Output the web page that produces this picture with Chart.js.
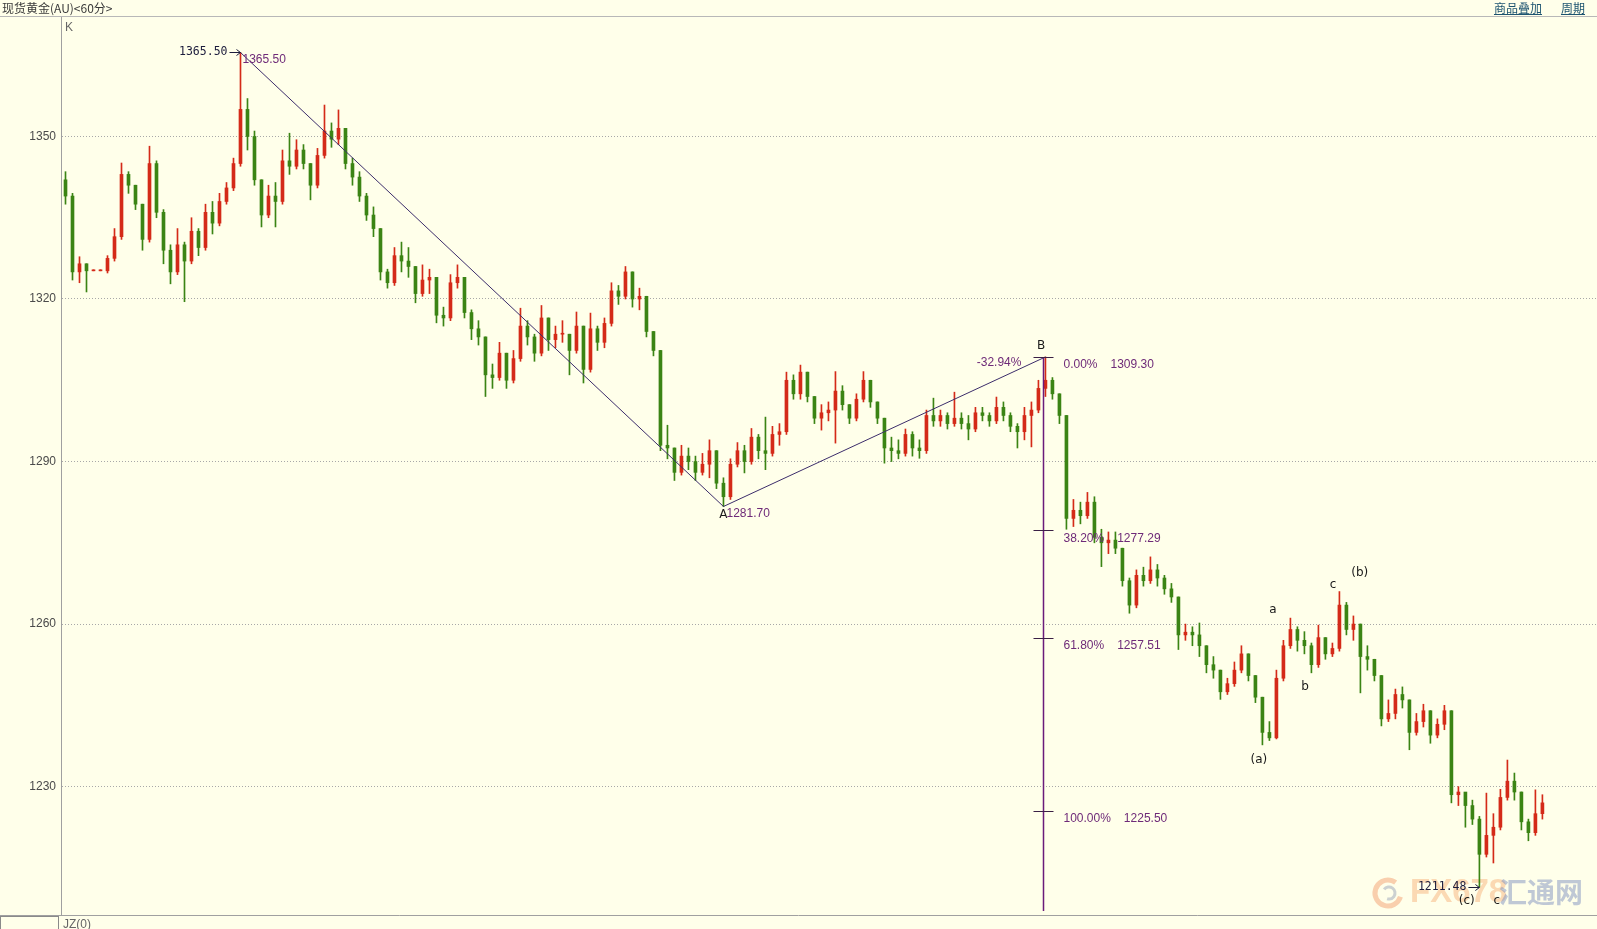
<!DOCTYPE html>
<html>
<head>
<meta charset="utf-8">
<title>现货黄金(AU)&lt;60分&gt;</title>
<script src="https://cdn.jsdelivr.net/npm/chart.js@4.4.1/dist/chart.umd.min.js"></script>
<style>
html, body { margin: 0; padding: 0; background: #ffffea; overflow: hidden; }
#wrap { position: relative; width: 1597px; height: 929px; }
#kChart { position: absolute; left: 0; top: 0; }
#title { position: absolute; left: 0; top: 0; width: 1597px; height: 17px; border-bottom: 1px solid #b8b8b8; box-sizing: border-box;
  font: 12px "Noto Sans CJK SC", sans-serif; color: #3a3a3a; line-height: 15px; padding-left: 2px; }
#links { position: absolute; right: 12px; top: 0; font: 12px "Noto Sans CJK SC", sans-serif; line-height: 15px; }
#links span { color: #1d5470; text-decoration: underline; margin-left: 19px; }
#jzBox { position: absolute; left: 0; top: 916px; width: 59px; height: 14px; border: 1px solid #8a8a8a; box-sizing: border-box; }
#jz { position: absolute; left: 63px; top: 917px; font: 12px "Liberation Sans", sans-serif; color: #666; }
</style>
</head>
<body>
<div id="wrap">
  <canvas id="kChart" width="1597" height="929"></canvas>
  <div id="title">现货黄金(AU)&lt;60分&gt;</div>
  <div id="links"><span>商品叠加</span><span>周期</span></div>
  <div id="jzBox"></div>
  <div id="jz">JZ(0)</div>
</div>
<script>
'use strict';

// hourly candles, left to right
const firstOpen = 1342;
const closes = [
  1339, 1325, 1326.5, 1325.2, 1325.2, 1325.2, 1327.5, 1331.5, 1343, 1341,
  1337.5, 1331, 1345, 1336, 1329, 1325, 1330, 1327, 1332.5, 1329.5,
  1336, 1334, 1338, 1340.5, 1345, 1355, 1350, 1342, 1335.5, 1339,
  1338, 1345.5, 1344.5, 1347.5, 1345, 1341, 1346.5, 1351, 1349.5, 1351.5,
  1345, 1342.5, 1339, 1335.5, 1333, 1325, 1323, 1328, 1327, 1326,
  1321, 1323.5, 1324, 1317, 1316.5, 1323, 1324, 1317.5, 1314.5, 1313,
  1306, 1305.5, 1310, 1305, 1309, 1315, 1313, 1310, 1316.5, 1312.5,
  1313.5, 1313.5, 1310.5, 1315, 1307, 1314.5, 1312, 1315.5, 1321.5, 1320.5,
  1325, 1320, 1320.5, 1314, 1310.5, 1293, 1292.5, 1288, 1291, 1290,
  1288, 1289.5, 1292, 1286, 1283.5, 1289.5, 1292, 1290, 1294.5, 1292,
  1291.5, 1295, 1295.5, 1305, 1302.5, 1306.5, 1302, 1298, 1299, 1299.5,
  1303, 1300.5, 1298, 1301.5, 1305, 1301, 1298, 1292.5, 1292, 1291.5,
  1295, 1292.5, 1292, 1298.5, 1297.5, 1298.5, 1297, 1298, 1297, 1296,
  1299, 1298.5, 1297.5, 1300, 1298.5, 1296.5, 1295.5, 1298.5, 1299.5, 1303.5,
  1305, 1302.5, 1298.5, 1279.5, 1281, 1280, 1282.5, 1276, 1275, 1275.5,
  1274, 1268, 1263.5, 1269, 1268, 1270, 1268.5, 1266.5, 1265, 1258,
  1258.5, 1258, 1256, 1252.5, 1251.5, 1247.5, 1249, 1251.5, 1254.5, 1250.5,
  1246.5, 1240, 1239, 1250, 1256, 1259, 1257, 1256, 1252.5, 1257.5,
  1254.5, 1255.5, 1263.5, 1259, 1260, 1254, 1253.5, 1250.5, 1242.5, 1243.5,
  1247, 1246, 1240, 1242, 1244, 1239.5, 1241.5, 1244, 1228.5, 1229,
  1226.5, 1224, 1217.5, 1221, 1222.5, 1228, 1231, 1229, 1223.5, 1221.5,
  1225, 1227
];
const highs = [
  1343.5, 1339.5, 1327.8, 1326.5, 1325.2, 1325.2, 1328, 1333, 1345.1, 1343.5,
  1341, 1337.5, 1348.2, 1345.5, 1336.5, 1330, 1333, 1330.5, 1335, 1333,
  1337.5, 1338, 1339.5, 1341.5, 1346, 1365.5, 1357, 1351, 1342, 1341,
  1341.5, 1347.5, 1350.6, 1349.4, 1348.5, 1345, 1347.8, 1355.8, 1352.5, 1354.9,
  1351.5, 1346, 1343.5, 1339.5, 1337, 1333, 1325.5, 1329.5, 1330.5, 1329.5,
  1326, 1326.3, 1325.5, 1324, 1318.5, 1324.5, 1326.3, 1324, 1318, 1316,
  1313, 1308, 1312, 1310, 1310.5, 1318.3, 1316, 1313.5, 1318.8, 1316.5,
  1315, 1316, 1313.5, 1317.6, 1315, 1317.4, 1315, 1316.5, 1323, 1322.5,
  1326, 1325, 1322, 1320.5, 1314, 1310.5, 1296.7, 1292.5, 1293, 1292.5,
  1291, 1291.5, 1294, 1292, 1287, 1290.5, 1293.5, 1293, 1296.1, 1295,
  1298.2, 1296.5, 1297, 1306.5, 1306, 1307.8, 1306.5, 1302, 1300.5, 1301,
  1306.6, 1304, 1300.5, 1302.5, 1306.6, 1305, 1301, 1298, 1294.5, 1294,
  1296, 1295.5, 1294, 1299.5, 1301.7, 1299.5, 1299, 1302.8, 1299, 1298.5,
  1300, 1300, 1299, 1301.9, 1301, 1299, 1297, 1300, 1301, 1305,
  1309.3, 1305.5, 1302.5, 1298.5, 1283, 1282.5, 1284.3, 1283.5, 1277.5, 1277,
  1277, 1274, 1268.5, 1270, 1270.5, 1272.4, 1271, 1269, 1267.5, 1265,
  1260, 1259.5, 1260.2, 1256, 1254, 1251.5, 1250, 1253, 1256, 1254.5,
  1250.5, 1246.5, 1242, 1251.5, 1257, 1261.1, 1259.5, 1258.6, 1256.5, 1259.8,
  1257.5, 1256.5, 1266, 1264, 1261.5, 1260, 1256, 1253.5, 1250.5, 1246,
  1248, 1248.4, 1246, 1243.5, 1245.2, 1244, 1242.5, 1245, 1244, 1230,
  1228.8, 1227.5, 1224.5, 1228.8, 1225, 1229.5, 1234.9, 1232.5, 1229, 1224,
  1229.4, 1228.5
];
const lows = [
  1337.5, 1323.5, 1323, 1321.3, 1325.2, 1325.2, 1324.8, 1327, 1331, 1339.5,
  1336.5, 1329, 1330.5, 1335, 1326.5, 1322.8, 1324.5, 1319.5, 1326.5, 1328,
  1329, 1332, 1333.5, 1337.5, 1340, 1344.5, 1347.5, 1341, 1333.3, 1335,
  1333.3, 1337.5, 1343, 1344, 1344, 1338.3, 1340.5, 1346, 1348, 1348.5,
  1344, 1341, 1338, 1334.5, 1331.5, 1323.5, 1322, 1322.5, 1325, 1324,
  1319.3, 1320.5, 1321, 1315.6, 1315, 1316, 1322, 1316.5, 1312.5, 1311.5,
  1302, 1303.5, 1305, 1303.5, 1304.5, 1308.5, 1311.5, 1308.5, 1309.5, 1310.5,
  1311, 1312, 1306, 1310, 1304.5, 1306.5, 1310.5, 1311, 1315, 1319,
  1320, 1318.5, 1318, 1313, 1309.5, 1292, 1290.5, 1286.5, 1287.5, 1288.5,
  1286.5, 1287.5, 1287, 1285, 1281.7, 1283, 1289, 1287.9, 1289.5, 1290.5,
  1288.5, 1291, 1293, 1295, 1301.5, 1301.5, 1301, 1297, 1295.8, 1297.5,
  1293.4, 1299.5, 1297, 1297.5, 1301, 1300, 1297, 1289.7, 1290, 1290.5,
  1291, 1291, 1290.6, 1291.5, 1296.5, 1296.5, 1296, 1296.5, 1296, 1294,
  1295.5, 1297.5, 1296.5, 1297, 1297.5, 1295.5, 1292.5, 1294, 1292.7, 1299,
  1302, 1301.5, 1297, 1277.5, 1278, 1278.5, 1279.5, 1275, 1270.6, 1273,
  1273, 1267, 1262, 1263, 1267, 1267.5, 1267, 1265.5, 1264, 1255.3,
  1257, 1256, 1254, 1251, 1250, 1246.1, 1247, 1248.5, 1251, 1249.5,
  1245.5, 1237.7, 1238.5, 1238.8, 1249.5, 1255.5, 1255, 1254.5, 1251, 1252,
  1253.5, 1254, 1255, 1258, 1257, 1247.3, 1251.5, 1249.5, 1241.2, 1242,
  1242.5, 1244.5, 1236.8, 1239.5, 1241, 1238, 1239, 1240.5, 1227, 1226.5,
  1222.5, 1223, 1211.48, 1217, 1215.9, 1222, 1227.5, 1227.5, 1222, 1220,
  1221, 1224
];

const yTicks = [1230, 1260, 1290, 1320, 1350];

// wave points: top, A, B (candle index / price)
const waveIdx = [25, 94, 140];
const wavePrice = [1365.50, 1281.70, 1309.30];
const retrace = '-32.94%';

const fibPct = ['0.00%', '38.20%', '61.80%', '100.00%'];
const fibVal = [1309.30, 1277.29, 1257.51, 1225.50];

const lowIdx = 202;
const lowPrice = 1211.48;

const waveText = ['A', 'B', 'a', 'b', 'c', '(a)', '(b)', '(c)', 'c'];
const waveTextIdx = [94, 139.4, 172.5, 177.1, 181.1, 170.5, 184.9, 200.2, 204.5];
const waveTextPrice = [1280.1, 1311.3, 1262.6, 1248.4, 1267.2, 1235.0, 1269.4, 1208.9, 1208.9];

const upColor = '#d42a18';
const downColor = '#3b8414';
const purple = '#6e2a78';

const opens = closes.map((c, i) => i === 0 ? firstOpen : closes[i - 1]);
const candleColors = closes.map((c, i) => c >= opens[i] ? upColor : downColor);

function arrowLabel(c, text, tipX, y){
    c.font = '11.5px "DejaVu Sans Mono", monospace';
    c.fillStyle = '#1c1c3c';
    c.strokeStyle = '#1c1c3c';
    c.textAlign = 'right';
    c.textBaseline = 'middle';
    c.fillText(text, tipX - 13, y);
    c.lineWidth = 1;
    c.beginPath();
    c.moveTo(tipX - 11, y + 0.5);
    c.lineTo(tipX, y + 0.5);
    c.moveTo(tipX - 4, y - 2.5);
    c.lineTo(tipX, y + 0.5);
    c.lineTo(tipX - 4, y + 3.5);
    c.stroke();
}

const overlay = {
    id: 'overlay',
    beforeDraw(chart){
        const c = chart.ctx;
        c.save();
        c.fillStyle = '#ffffea';
        c.fillRect(0, 0, chart.width, chart.height);

        // watermark
        c.globalAlpha = 0.5;
        c.lineWidth = 5;
        c.strokeStyle = '#f4a070';
        c.beginPath();
        c.arc(1388, 893, 13, 0.3, Math.PI * 1.7);
        c.stroke();
        c.strokeStyle = '#9aa4b8';
        c.lineWidth = 3;
        c.beginPath();
        c.arc(1389, 893, 6, Math.PI * 1.2, Math.PI * 2.6);
        c.stroke();
        c.font = 'bold 33px "Liberation Sans", sans-serif';
        c.textBaseline = 'middle';
        c.fillStyle = '#f7b47c';
        c.fillText('FX678', 1410, 893);
        c.font = 'bold 28px "Noto Sans CJK SC", sans-serif';
        c.fillStyle = '#8092c0';
        c.fillText('汇通网', 1499, 892);
        c.restore();
    },
    afterDatasetsDraw(chart){
        const c = chart.ctx;
        const area = chart.chartArea;
        const xs = chart.scales.x, ys = chart.scales.y;
        const px = v => xs.getPixelForValue(v);
        const py = v => ys.getPixelForValue(v);
        c.save();

        // axis frame
        c.strokeStyle = '#a0a0a0';
        c.lineWidth = 1;
        c.beginPath();
        c.moveTo(area.left - 0.5, area.top);
        c.lineTo(area.left - 0.5, area.bottom);
        c.moveTo(0, area.bottom + 0.5);
        c.lineTo(chart.width, area.bottom + 0.5);
        c.stroke();

        c.font = '12px "Liberation Sans", sans-serif';
        c.fillStyle = '#666';
        c.textBaseline = 'middle';
        c.fillText('K', area.left + 3, area.top + 11);

        // fibonacci ruler from B
        const bx = Math.round(px(waveIdx[2])) - 1.5;
        c.strokeStyle = '#6a1b7a';
        c.lineWidth = 1.5;
        c.beginPath();
        c.moveTo(bx, py(fibVal[0]));
        c.lineTo(bx, area.bottom - 4);
        c.stroke();
        c.strokeStyle = '#3a1f45';
        c.lineWidth = 1;
        c.beginPath();
        fibVal.forEach(v => {
            const y = Math.round(py(v)) + 0.5;
            c.moveTo(bx - 10, y);
            c.lineTo(bx + 10, y);
        });
        c.stroke();
        c.font = '12px "Liberation Sans", sans-serif';
        c.fillStyle = purple;
        c.textAlign = 'left';
        fibPct.forEach((t, k) => {
            const y = py(fibVal[k]) + 8;
            c.fillText(t, bx + 20, y);
            const w = c.measureText(t).width;
            c.fillText(fibVal[k].toFixed(2), bx + 20 + w + 13, y);
        });

        // price tags on wave points
        c.fillText(wavePrice[0].toFixed(2), px(waveIdx[0]) + 2, py(wavePrice[0]) + 7);
        c.fillText(wavePrice[1].toFixed(2), px(waveIdx[1]) + 3, py(wavePrice[1]) + 7);
        c.textAlign = 'right';
        c.fillText(retrace, px(waveIdx[2]) - 24, py(wavePrice[2]) + 6);

        arrowLabel(c, wavePrice[0].toFixed(2), px(waveIdx[0]), Math.round(py(wavePrice[0])));
        arrowLabel(c, lowPrice.toFixed(2), px(lowIdx), Math.round(py(lowPrice)));

        // wave letters
        c.font = '12px "DejaVu Sans", sans-serif';
        c.fillStyle = '#1a1a1a';
        c.textAlign = 'center';
        c.textBaseline = 'middle';
        waveText.forEach((t, k) => c.fillText(t, px(waveTextIdx[k]), py(waveTextPrice[k])));
        c.restore();
    }
};

new Chart(document.getElementById('kChart'), {
    type: 'bar',
    data: {
        datasets: [{
            type: 'line',
            label: 'wave',
            data: waveIdx.map((x, k) => ({x: x, y: wavePrice[k]})),
            borderColor: '#3c2d6b',
            borderWidth: 1,
            pointRadius: 0,
            order: 0
        }, {
            label: 'body',
            data: closes.map((c, i) => ({x: i, y: [opens[i], c]})),
            backgroundColor: candleColors,
            barThickness: 3,
            minBarLength: 1,
            grouped: false,
            order: 1
        }, {
            label: 'wick',
            data: closes.map((c, i) => ({x: i, y: [lows[i], highs[i]]})),
            backgroundColor: candleColors,
            barThickness: 1,
            minBarLength: 1,
            grouped: false,
            order: 2
        }]
    },
    options: {
        responsive: false,
        animation: false,
        events: [],
        layout: { padding: { top: 17, bottom: 14, left: 0, right: 0 } },
        plugins: { legend: { display: false }, tooltip: { enabled: false } },
        scales: {
            x: { type: 'linear', display: false, min: -0.5, max: 218.8, offset: false },
            y: {
                min: 1206.3,
                max: 1372.05,
                afterFit: s => { s.width = 62; },
                afterBuildTicks: s => { s.ticks = yTicks.map(v => ({value: v})); },
                grid: { color: '#a8a8a8', lineWidth: 1, drawTicks: false, borderDash: [1, 2] },
                border: { display: false, dash: [1, 2] },
                ticks: {
                    color: '#4a4a4a', padding: 6,
                    font: { family: 'Liberation Sans', size: 12 },
                    callback: v => String(v)
                }
            }
        }
    },
    plugins: [overlay]
});
</script>
</body>
</html>
